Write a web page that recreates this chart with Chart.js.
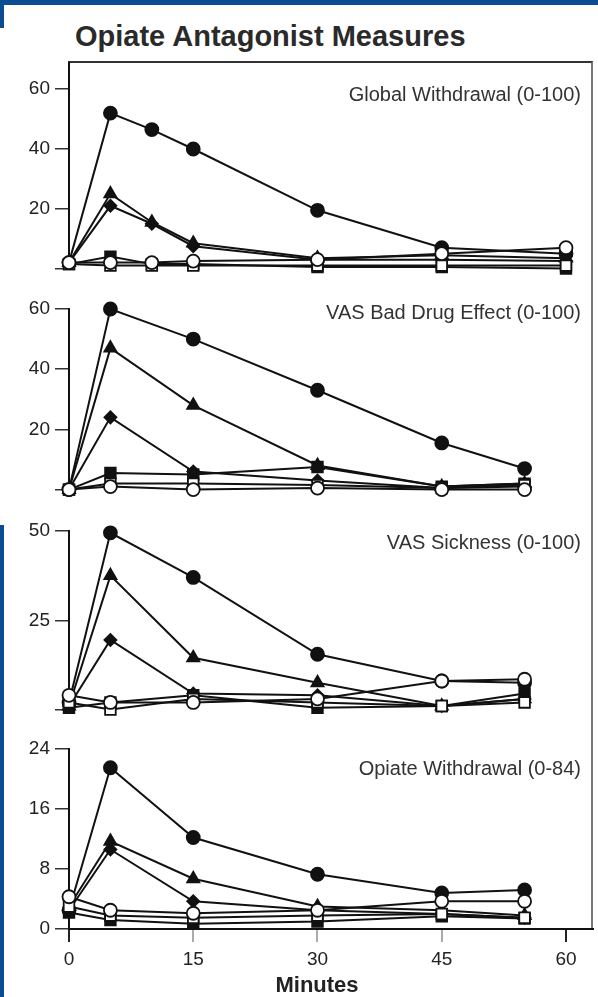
<!DOCTYPE html>
<html>
<head>
<meta charset="utf-8">
<script src="https://cdn.jsdelivr.net/npm/chart.js@4.4.0/dist/chart.umd.min.js"></script>
<style>
	html, body { margin: 0; padding: 0; background: #fff; }
	#page { position: relative; width: 598px; height: 997px; overflow: hidden; font-family: "Liberation Sans", Arial, sans-serif; }
	.blue { position: absolute; background: #0b4d92; }
	#title { position: absolute; left: 75px; top: 22px; font-size: 29px; line-height: 29px; font-weight: bold; color: #2a2a2a; white-space: nowrap; }
	.plabel { position: absolute; right: 17px; font-size: 20px; line-height: 20px; color: #333; white-space: nowrap; }
	#xtitle { position: absolute; left: 217px; width: 200px; top: 974px; text-align: center; font-size: 22px; line-height: 22px; font-weight: bold; color: #222; }
	#frame { position: absolute; left: 68px; top: 61px; width: 523px; height: 866px; border-top: 2px solid #333; border-right: 2px solid #777; }
	canvas { position: absolute; left: 0; }
</style>
</head>
<body>
<div id="page">
	<div class="blue" style="left:0;top:0;width:598px;height:5px"></div>
	<div class="blue" style="left:0;top:0;width:4px;height:28px"></div>
	<div class="blue" style="left:0;top:525px;width:4px;height:472px"></div>
	<div id="title">Opiate Antagonist Measures</div>
	<div id="frame"></div>
	<canvas id="c1" width="598" height="242" style="top:43px"></canvas>
	<canvas id="c2" width="598" height="217" style="top:289px"></canvas>
	<canvas id="c3" width="598" height="215" style="top:511px"></canvas>
	<canvas id="c4" width="598" height="268" style="top:729px"></canvas>
	<div class="plabel" style="top:84px">Global Withdrawal (0-100)</div>
	<div class="plabel" style="top:302px">VAS Bad Drug Effect (0-100)</div>
	<div class="plabel" style="top:532px">VAS Sickness (0-100)</div>
	<div class="plabel" style="top:758px">Opiate Withdrawal (0-84)</div>
	<div id="xtitle">Minutes</div>
</div>
<script>
// time points (minutes)
var minutesGlobal = [0, 5, 10, 15, 30, 45, 60];
var minutes = [0, 5, 15, 30, 45, 55];

// Global Withdrawal (0-100)
var gwFilledCircle = [2, 52, 46.5, 40, 19.5, 7, 5];
var gwTriangle = [2, 25, 15.5, 8.5, 3.5, 4.5, 3.5];
var gwDiamond = [2, 21, 15, 7.5, 3, 3, 2.5];
var gwFilledSquare = [1.5, 4, 1.5, 1.5, 0.5, 0.5, 0];
var gwOpenSquare = [1.5, 1, 1, 1, 1, 1, 1];
var gwOpenCircle = [2, 2, 2, 2.5, 3, 5, 7];

// VAS Bad Drug Effect (0-100)
var bdFilledCircle = [0, 60, 50, 33, 15.5, 7];
var bdTriangle = [0, 47, 28, 8, 1, 2];
var bdDiamond = [0, 24, 6, 3, 0.5, 1];
var bdFilledSquare = [0, 5.5, 5, 7.5, 1, 2];
var bdOpenSquare = [0, 2, 2, 1.5, 0.5, 1.5];
var bdOpenCircle = [0, 1, 0, 0.5, 0, 0];

// VAS Sickness (0-100)
var skFilledCircle = [2, 49.5, 37, 15.5, 8, 7.5];
var skTriangle = [1, 37.5, 14.5, 7.5, 1, 3];
var skDiamond = [1, 19.5, 4.5, 4, 1, 3];
var skFilledSquare = [0.5, 2, 4, 0.5, 1, 4.5];
var skOpenSquare = [2, 0, 3, 2, 1, 2];
var skOpenCircle = [4, 2, 2, 3, 8, 8.5];

// Opiate Withdrawal (0-84)
var owFilledCircle = [2.5, 21.5, 12.2, 7.3, 4.8, 5.2];
var owTriangle = [3, 11.7, 6.7, 3, 2.5, 1.8];
var owDiamond = [2.5, 10.6, 3.7, 2.5, 2, 1.5];
var owFilledSquare = [2.2, 1.2, 0.7, 1, 1.7, 1.4];
var owOpenSquare = [3, 1.8, 1.5, 1.8, 2, 1.5];
var owOpenCircle = [4.3, 2.5, 2.1, 2.5, 3.7, 3.7];

// y tick labels per panel
var gwTicks = [0, 20, 40, 60];
var bdTicks = [0, 20, 40, 60];
var skTicks = [0, 25, 50];
var owTicks = [0, 8, 16, 24];
var xTicks = [0, 15, 30, 45, 60];

var fontFamily = '"Liberation Sans", Arial, sans-serif';
var ink = '#111';

// marker for each series, first one is drawn on top
var markers = [
	{name: 'open circle', style: 'circle', radius: 6.5, fill: '#fff'},
	{name: 'open square', style: 'rect', radius: 7.5, fill: '#fff'},
	{name: 'filled circle', style: 'circle', radius: 6.5, fill: ink},
	{name: 'filled triangle', style: 'triangle', radius: 7, fill: ink},
	{name: 'filled diamond', style: 'rectRot', radius: 6, fill: ink},
	{name: 'filled square', style: 'rect', radius: 7.5, fill: ink}
];

function makeDatasets(times, series) {
	var sets = [];
	for (let i = 0; i < markers.length; i++) {
		let pts = [];
		for (let j = 0; j < times.length; j++) {
			pts.push({x: times[j], y: series[i][j]});
		}
		sets.push({
			label: markers[i].name,
			data: pts,
			borderColor: ink,
			borderWidth: 2,
			pointStyle: markers[i].style,
			pointRadius: markers[i].radius,
			pointBackgroundColor: markers[i].fill,
			pointBorderColor: ink,
			pointBorderWidth: 1.8,
			clip: false
		});
	}
	return sets;
}

function makePanel(id, times, series, yTicks, yMax, showZero, withX) {
	var options = {
		responsive: false,
		animation: false,
		layout: {autoPadding: false, padding: {top: 20, right: 5, bottom: withX ? 0 : 12, left: 0}},
		plugins: {legend: {display: false}, tooltip: {enabled: false}},
		scales: {
			x: {
				type: 'linear',
				display: withX,
				min: 0,
				max: 63.26,
				afterBuildTicks: function(scale){ scale.ticks = xTicks.map(function(v){ return {value: v}; }); },
				afterFit: function(scale){ if (withX) scale.height = 68; },
				grid: {
					drawOnChartArea: false,
					drawTicks: true,
					tickLength: 13,
					lineWidth: 2,
					color: function(ctx){ return (ctx.tick && (ctx.tick.value == 0 || ctx.tick.value == 60)) ? '#222' : '#aaa'; }
				},
				border: {display: true, color: ink, width: 2},
				ticks: {color: '#222', font: {family: fontFamily, size: 19}, padding: 6, maxRotation: 0}
			},
			y: {
				min: 0,
				max: yMax,
				afterBuildTicks: function(scale){ scale.ticks = yTicks.map(function(v){ return {value: v}; }); },
				afterFit: function(scale){ scale.width = 69; },
				grid: {drawOnChartArea: false, drawTicks: true, tickLength: 14, lineWidth: 1.5, color: '#333'},
				border: {display: true, color: ink, width: 2},
				ticks: {
					color: '#222',
					padding: 5,
					font: {family: fontFamily, size: 19},
					callback: function(v){ return (v == 0 && !showZero) ? '' : v; }
				}
			}
		}
	};
	return new Chart(document.getElementById(id), {
		type: 'line',
		data: {datasets: makeDatasets(times, series)},
		options: options
	});
}

makePanel('c1', minutesGlobal,
	[gwOpenCircle, gwOpenSquare, gwFilledCircle, gwTriangle, gwDiamond, gwFilledSquare],
	gwTicks, 68.76, false, false);
makePanel('c2', minutes,
	[bdOpenCircle, bdOpenSquare, bdFilledCircle, bdTriangle, bdDiamond, bdFilledSquare],
	bdTicks, 60, false, false);
makePanel('c3', minutes,
	[skOpenCircle, skOpenSquare, skFilledCircle, skTriangle, skDiamond, skFilledSquare],
	skTicks, 50, false, false);
makePanel('c4', minutes,
	[owOpenCircle, owOpenSquare, owFilledCircle, owTriangle, owDiamond, owFilledSquare],
	owTicks, 24, true, true);
</script>
</body>
</html>
